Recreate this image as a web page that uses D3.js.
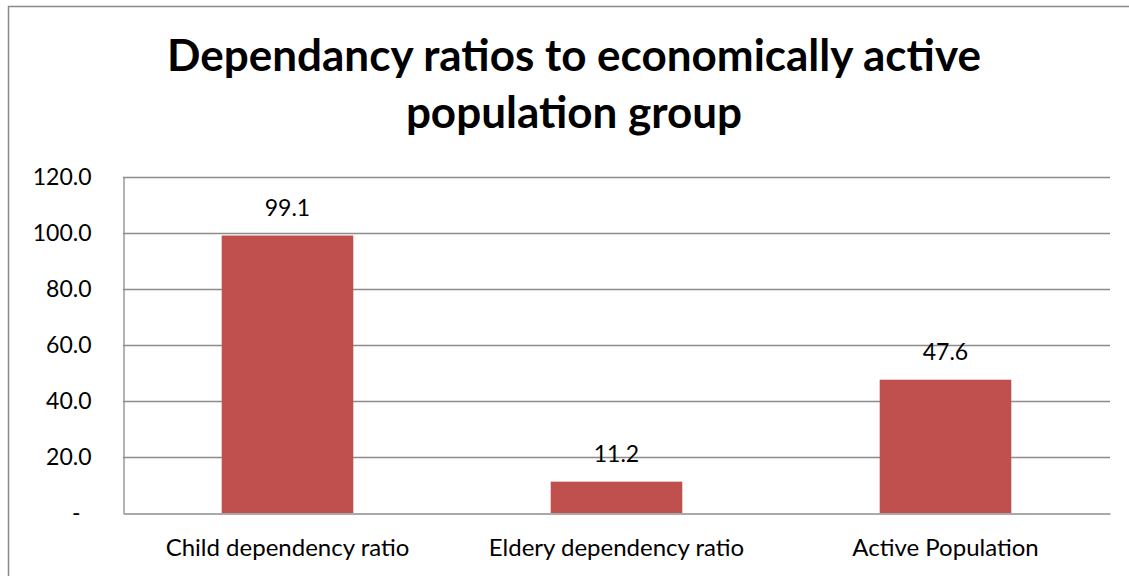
<!DOCTYPE html>
<html>
<head>
<meta charset="utf-8">
<script src="https://cdn.jsdelivr.net/npm/d3@7"></script>
<style>
  html, body { margin: 0; padding: 0; background: #fff; }
  svg { display: block; font-family: Lato, "Open Sans", sans-serif; }
</style>
</head>
<body>
<svg id="chart" width="1129" height="576"></svg>
<script>
// Dependency ratios data
const categories = ["Child dependency ratio", "Eldery dependency ratio", "Active Population"];
const values = [99.1, 11.2, 47.6];
const tickValues = [0, 20, 40, 60, 80, 100, 120];
const titleLines = ["Dependancy ratios to economically active", "population group"];

const svg = d3.select("#chart");
const plot = { left: 123, right: 1110, top: 177, bottom: 513 };
const FONT = "Lato, 'Open Sans', sans-serif";

// Outer chart frame
svg.append("rect")
  .attr("x", 8.5).attr("y", 6.5)
  .attr("width", 1130).attr("height", 600)
  .attr("fill", "#fff")
  .attr("stroke", "#898989").attr("stroke-width", 1.5);

// Title
svg.append("g")
  .selectAll("text")
  .data(titleLines)
  .join("text")
  .attr("x", 574)
  .attr("y", (d, i) => 71 + i * 57)
  .attr("text-anchor", "middle")
  .attr("font-weight", "bold")
  .attr("font-size", 44)
  .attr("fill", "#000")
  .text(d => d);

const x = d3.scaleBand().domain(categories).range([plot.left, plot.right]).padding(0);
const y = d3.scaleLinear().domain([0, 120]).range([plot.bottom, plot.top]);

// Horizontal gridlines
svg.append("g")
  .selectAll("line")
  .data(tickValues.filter(v => v > 0))
  .join("line")
  .attr("x1", plot.left).attr("x2", plot.right)
  .attr("y1", d => Math.round(y(d)) + 0.5).attr("y2", d => Math.round(y(d)) + 0.5)
  .attr("stroke", "#8c8c8c").attr("stroke-width", 1.3);

// Y axis
const yAxis = svg.append("g")
  .attr("transform", `translate(${plot.left + 0.5},0)`)
  .call(d3.axisLeft(y).tickValues(tickValues).tickSize(0).tickPadding(32)
    .tickFormat(d => d === 0 ? "-" : d3.format(".1f")(d)));
yAxis.select(".domain").attr("stroke", "#8c8c8c").attr("stroke-width", 1.3);
yAxis.selectAll("text")
  .attr("font-family", FONT)
  .attr("font-size", 23).attr("fill", "#000")
  .attr("dx", d => d === 0 ? -11 : 0);

// Bars
const barW = x.bandwidth() * 0.4;
svg.append("g")
  .selectAll("rect")
  .data(values)
  .join("rect")
  .attr("x", (d, i) => x(categories[i]) + (x.bandwidth() - barW) / 2)
  .attr("y", d => y(d))
  .attr("width", barW)
  .attr("height", d => y(0) - y(d))
  .attr("fill", "#C0504D");

// X axis baseline and category labels
const xAxis = svg.append("g")
  .attr("transform", `translate(0,${plot.bottom + 0.5})`)
  .call(d3.axisBottom(x).tickSize(0).tickPadding(25));
xAxis.select(".domain").attr("stroke", "#8c8c8c").attr("stroke-width", 1.3);
xAxis.selectAll("text")
  .attr("font-family", FONT)
  .attr("font-size", 24).attr("fill", "#000");

// Value labels
svg.append("g")
  .selectAll("text")
  .data(values)
  .join("text")
  .attr("x", (d, i) => x(categories[i]) + x.bandwidth() / 2)
  .attr("y", d => y(d) - 20)
  .attr("text-anchor", "middle")
  .attr("font-size", 23)
  .attr("fill", "#000")
  .text(d => d3.format(".1f")(d));
</script>
</body>
</html>
